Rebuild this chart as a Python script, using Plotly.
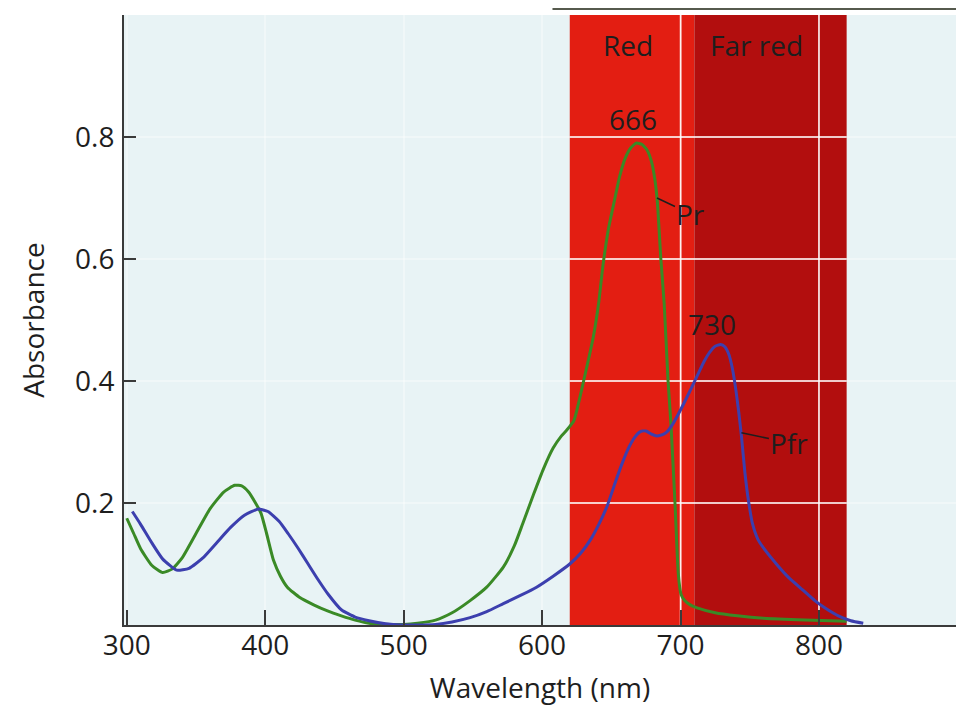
import plotly.graph_objects as go

# Pr (red-absorbing form) absorbance spectrum
pr_nm = [300, 305, 310, 318, 326, 333, 340, 350, 360, 370, 378, 383, 388, 393, 397, 401,
         406, 411, 416, 425, 435, 445, 455, 465, 475, 490, 500, 510, 523, 535, 548, 560,
         572, 580, 586, 594, 601, 608, 614, 618, 623, 627, 630, 634, 637, 641, 644, 648,
         652, 656, 660, 664, 668, 672, 676, 679, 681.5, 683.3, 685.8, 688.2, 691, 693,
         696, 698.4, 700.4, 703, 707, 712, 725, 741, 760, 790, 820]
pr_abs = [0.175, 0.15, 0.125, 0.098, 0.086, 0.092, 0.11, 0.15, 0.19, 0.218, 0.229, 0.228,
          0.218, 0.2, 0.183, 0.15, 0.106, 0.08, 0.062, 0.045, 0.033, 0.023, 0.015, 0.008,
          0.003, 0.001, 0.001, 0.003, 0.008, 0.02, 0.04, 0.062, 0.095, 0.13, 0.166, 0.215,
          0.256, 0.29, 0.31, 0.32, 0.335, 0.37, 0.40, 0.44, 0.472, 0.53, 0.59, 0.65, 0.693,
          0.735, 0.765, 0.782, 0.79, 0.788, 0.778, 0.76, 0.73, 0.693, 0.6, 0.527, 0.40,
          0.333, 0.2, 0.084, 0.05, 0.04, 0.033, 0.028, 0.02, 0.015, 0.011, 0.008, 0.006]

# Pfr (far-red-absorbing form) absorbance spectrum
pfr_nm = [304, 310, 318, 326, 336, 345, 355, 365, 375, 385, 395, 402, 410, 416.5, 424,
          431, 438, 445.6, 455, 465, 475, 487, 499, 511, 523, 535, 548, 560, 572, 584,
          596, 608, 620, 628, 635, 641, 647, 652, 657, 662, 667, 671, 675, 679, 683, 687,
          690, 694, 698, 703, 708, 713, 717, 721, 725, 729, 732, 735, 737.5, 740, 742,
          744, 746.5, 749, 752, 756, 761, 770, 778, 788, 797, 805, 814, 823, 832]
pfr_abs = [0.186, 0.165, 0.135, 0.108, 0.09, 0.093, 0.11, 0.135, 0.16, 0.18, 0.19, 0.186,
           0.17, 0.15, 0.125, 0.1, 0.075, 0.05, 0.025, 0.013, 0.007, 0.002, 0.0, 0.0,
           0.001, 0.005, 0.012, 0.022, 0.035, 0.048, 0.062, 0.08, 0.1, 0.118, 0.14, 0.165,
           0.195, 0.228, 0.26, 0.288, 0.308, 0.317, 0.318, 0.313, 0.31, 0.312, 0.316,
           0.328, 0.344, 0.366, 0.389, 0.413, 0.432, 0.447, 0.457, 0.46, 0.456, 0.443,
           0.42, 0.385, 0.35, 0.31, 0.25, 0.205, 0.166, 0.14, 0.123, 0.098, 0.078, 0.058,
           0.04, 0.027, 0.015, 0.007, 0.003]

x_ticks = [300, 400, 500, 600, 700, 800, 900]
x_tick_text = ["300", "400", "500", "600", "700", "800", ""]
y_ticks = [0.2, 0.4, 0.6, 0.8, 1.0]
y_tick_text = ["0.2", "0.4", "0.6", "0.8", ""]

red_band = [620, 710]
far_red_band = [710, 820]

font_family = "Open Sans, Noto Sans, sans-serif"
text_color = "#1e1e1e"
axis_color = "#3a3a3a"
fs = 28

fig = go.Figure()
fig.add_trace(go.Scatter(x=pr_nm, y=pr_abs, mode="lines", name="Pr",
                         line=dict(color="#3a8a26", width=3, shape="spline", smoothing=0.5)))
fig.add_trace(go.Scatter(x=pfr_nm, y=pfr_abs, mode="lines", name="Pfr",
                         line=dict(color="#3c3fae", width=3, shape="spline", smoothing=0.5)))

fig.add_vrect(x0=red_band[0], x1=red_band[1], fillcolor="#e31e12", opacity=1,
              line_width=0, layer="below")
fig.add_vrect(x0=far_red_band[0], x1=far_red_band[1], fillcolor="#b20e0e", opacity=1,
              line_width=0, layer="below")

# crisp white grid over the coloured bands
for yv in y_ticks[:-1]:
    fig.add_shape(type="line", x0=red_band[0], x1=far_red_band[1], y0=yv, y1=yv,
                  line=dict(color="rgba(255,255,255,0.9)", width=1.5), layer="below")
for xv in x_ticks:
    if red_band[0] < xv < far_red_band[1]:
        fig.add_shape(type="line", x0=xv, x1=xv, y0=0, y1=1, yref="y",
                      line=dict(color="rgba(255,255,255,0.9)", width=1.5), layer="below")

# scan artifact line at top right
fig.add_shape(type="line", xref="paper", yref="paper", x0=0.515, x1=1.0,
              y0=1.0105, y1=1.0105, line=dict(color="#565a4e", width=3))

ann_font = dict(family=font_family, size=fs, color=text_color)
fig.add_annotation(x=662, y=0.951, text="Red", showarrow=False, font=ann_font)
fig.add_annotation(x=755, y=0.951, text="Far red", showarrow=False, font=ann_font)
fig.add_annotation(x=665.5, y=0.83, text="666", showarrow=False, font=ann_font)
fig.add_annotation(x=722.5, y=0.494, text="730", showarrow=False, font=ann_font)
fig.add_annotation(x=683, y=0.70, text="Pr", showarrow=True, arrowhead=0, arrowwidth=1.5,
                   arrowcolor=text_color, ax=34, ay=16, font=ann_font, standoff=0)
fig.add_annotation(x=744, y=0.315, text="Pfr", showarrow=True, arrowhead=0, arrowwidth=1.5,
                   arrowcolor=text_color, ax=48, ay=10, font=ann_font, standoff=0)

# page body has an 8px margin: compensate so the plot area lands where the reference has it
fig.update_layout(
    width=959, height=698,
    margin=dict(l=116, r=11, t=7, b=81),
    paper_bgcolor="white",
    plot_bgcolor="#e8f3f5",
    showlegend=False,
    font=dict(family=font_family, size=fs, color=text_color),
)
fig.update_xaxes(
    range=[298, 899], tickvals=x_ticks, ticktext=x_tick_text,
    ticks="inside", ticklen=15, tickwidth=1.5, tickcolor=axis_color,
    showline=True, linecolor=axis_color, linewidth=2,
    showgrid=True, gridcolor="rgba(255,255,255,0.35)", gridwidth=1.5,
    zeroline=False, automargin=False, ticklabelstandoff=-6,
    title=dict(text="Wavelength (nm)", standoff=20, font=dict(size=fs)),
    tickfont=dict(size=fs),
)
fig.update_yaxes(
    range=[0, 1.0], tickvals=y_ticks, ticktext=y_tick_text,
    ticks="inside", ticklen=12, tickwidth=1.5, tickcolor=axis_color,
    showline=True, linecolor=axis_color, linewidth=2,
    showgrid=True, gridcolor="rgba(255,255,255,0.35)", gridwidth=1.5,
    zeroline=False, automargin=False, ticklabelstandoff=2,
    title=dict(text="Absorbance", standoff=22, font=dict(size=fs)),
    tickfont=dict(size=fs),
)

fig.write_html("out.html")
